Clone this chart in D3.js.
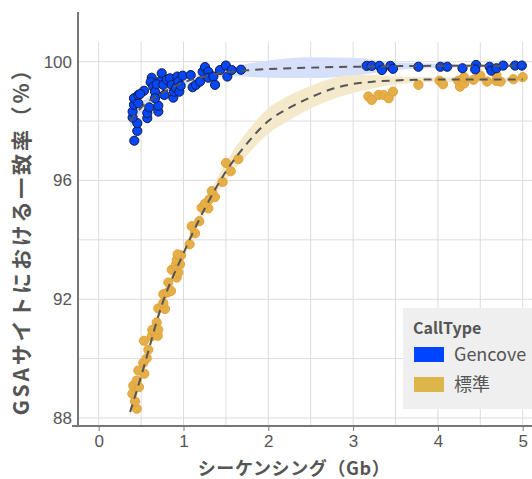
<!DOCTYPE html>
<html>
<head>
<meta charset="utf-8">
<script src="https://cdn.jsdelivr.net/npm/d3@7"></script>
<style>
  body { margin: 0; background: #fff; }
  svg { display: block; font-family: "Noto Sans CJK JP", "Noto Sans", sans-serif; }
</style>
</head>
<body>
<svg id="chart"></svg>
<script>
const width = 532;
const height = 479;

// points: sequencing (Gb) vs concordance (%)
const gencoveX = [0.42, 0.455, 0.455, 0.40, 0.40, 0.416, 0.416, 0.467, 0.467, 0.534, 0.487, 0.573, 0.573, 0.597, 0.703, 0.703,
  0.625, 0.613, 0.644, 0.664, 0.664, 0.743, 0.723, 0.684, 0.762, 0.774, 0.802, 0.841, 0.861, 0.88, 0.888, 0.912, 0.927, 0.939,
  0.951, 0.967, 0.99, 1.085, 1.108, 1.147, 1.195, 1.226, 1.254, 1.293, 1.293, 1.352, 1.372, 1.43, 1.50, 1.517, 1.568, 1.678,
  3.16, 3.22, 3.31, 3.34, 3.44, 3.47, 3.77, 4.03, 4.11, 4.29, 4.45, 4.44, 4.61, 4.63, 4.69, 4.77, 4.91, 4.99];
const gencoveY = [97.34, 97.67, 97.93, 98.12, 98.32, 98.55, 98.77, 98.60, 98.88, 99.02, 98.91, 98.10, 98.27, 98.46, 98.32, 98.52,
  99.46, 99.31, 99.16, 98.99, 98.77, 99.61, 99.33, 99.24, 99.22, 98.88, 99.39, 99.44, 99.22, 98.79, 98.99, 99.11, 99.50, 99.33,
  98.99, 99.19, 99.53, 99.55, 99.14, 99.22, 99.33, 99.66, 99.82, 99.66, 99.46, 99.50, 99.22, 99.72, 99.87, 99.50, 99.72, 99.73,
  99.86, 99.86, 99.86, 99.72, 99.86, 99.76, 99.83, 99.83, 99.83, 99.78, 99.89, 99.74, 99.83, 99.70, 99.78, 99.87, 99.87, 99.87];

const standardX = [0.448, 0.428, 0.397, 0.408, 0.475, 0.448, 0.538, 0.467, 0.526, 0.566, 0.585, 0.534, 0.625, 0.656, 0.696, 0.632,
  0.684, 0.703, 0.703, 0.782, 0.762, 0.762, 0.814, 0.853, 0.821, 0.92, 0.939, 0.861, 0.908, 0.959, 0.92, 0.971, 0.931, 1.072,
  1.136, 1.097, 1.186, 1.215, 1.293, 1.254, 1.304, 1.371, 1.333, 1.462, 1.501, 1.557, 1.646,
  3.18, 3.22, 3.30, 3.36, 3.42, 3.47, 3.77, 4.02, 4.06, 4.24, 4.26, 4.30, 4.31, 4.31, 4.42, 4.50, 4.58, 4.69, 4.69, 4.74, 4.89, 5.00];
const standardY = [88.31, 88.56, 88.82, 89.09, 89.04, 89.26, 89.49, 89.60, 89.86, 90.01, 90.30, 90.60, 90.75, 90.89, 90.77, 90.97,
  91.22, 90.97, 91.69, 91.67, 91.87, 92.17, 92.23, 92.28, 92.56, 92.73, 92.90, 92.99, 93.14, 93.18, 93.32, 93.48, 93.51, 93.85,
  94.22, 94.46, 94.63, 95.08, 95.06, 95.22, 95.36, 95.44, 95.64, 95.95, 96.59, 96.31, 96.72,
  98.83, 98.71, 98.88, 98.88, 98.77, 98.99, 99.22, 99.36, 99.24, 99.36, 99.16, 99.44, 99.27, 99.48, 99.39, 99.53, 99.33, 99.55, 99.35, 99.33, 99.41, 99.48];

// fitted trend and its band
const gencoveFitX = [0.37, 0.5, 0.75, 1.0, 1.25, 1.5, 1.75, 2.0, 2.5, 3.0, 3.25, 3.5, 4.0, 4.5, 5.0];
const gencoveFitY = [98.0, 98.45, 98.95, 99.3, 99.5, 99.64, 99.71, 99.75, 99.8, 99.83, 99.84, 99.85, 99.86, 99.86, 99.87];
const gencoveFitHalf = [0.25, 0.18, 0.12, 0.1, 0.1, 0.14, 0.22, 0.29, 0.35, 0.3, 0.22, 0.13, 0.07, 0.05, 0.05];

const standardFitX = [0.37, 0.5, 0.75, 1.0, 1.25, 1.5, 1.75, 2.0, 2.25, 2.5, 2.75, 3.0, 3.25, 3.5, 4.0, 4.5, 5.0];
const standardFitY = [88.2, 89.4, 91.85, 93.55, 95.05, 96.3, 97.25, 98.0, 98.45, 98.8, 99.08, 99.25, 99.33, 99.37, 99.4, 99.4, 99.4];
const standardFitHalf = [0.15, 0.15, 0.15, 0.15, 0.2, 0.3, 0.4, 0.43, 0.42, 0.38, 0.35, 0.3, 0.22, 0.13, 0.08, 0.08, 0.08];

const xTicks = [0, 1, 2, 3, 4, 5];
const yTicks = [88, 92, 96, 100];
const xGrid = [0, 0.5, 1, 1.5, 2, 2.5, 3, 3.5, 4, 4.5, 5];
const yGrid = [88, 90, 92, 94, 96, 98, 100];

const series = ['Gencove', '標準'];
const colors = { 'Gencove': '#0044ff', '標準': '#dcb64a' };

const svg = d3.select('#chart')
    .attr('width', width)
    .attr('height', height);

const x = d3.scaleLinear().domain([0, 5]).range([98.7, 522.7]);
const y = d3.scaleLinear().domain([88, 100]).range([418, 61.7]);

const axisX = 78;
const axisY = 426;
const gridTop = 42;

// grid
svg.append('g').selectAll('line').data(xGrid).enter().append('line')
    .attr('x1', d => x(d)).attr('x2', d => x(d))
    .attr('y1', gridTop).attr('y2', axisY)
    .attr('stroke', '#dcdcdc').attr('stroke-width', 1);
svg.append('g').selectAll('line').data(yGrid).enter().append('line')
    .attr('x1', axisX).attr('x2', width)
    .attr('y1', d => y(d)).attr('y2', d => y(d))
    .attr('stroke', '#dcdcdc').attr('stroke-width', 1);

// bands
const gencoveFit = gencoveFitX.map((v, i) => ({ x: v, y: gencoveFitY[i], h: gencoveFitHalf[i] }));
const standardFit = standardFitX.map((v, i) => ({ x: v, y: standardFitY[i], h: standardFitHalf[i] }));

const band = d3.area()
    .x(d => x(d.x))
    .y0(d => y(d.y - d.h))
    .y1(d => y(d.y + d.h))
    .curve(d3.curveMonotoneX);

svg.append('path').datum(gencoveFit).attr('d', band).attr('fill', '#d6e0fb');
svg.append('path').datum(standardFit).attr('d', band).attr('fill', '#f4e9cb');

// points
const gencovePts = gencoveX.map((v, i) => ({ x: v, y: gencoveY[i] }));
const standardPts = standardX.map((v, i) => ({ x: v, y: standardY[i] }));

svg.append('g').selectAll('circle').data(standardPts).enter().append('circle')
    .attr('cx', d => x(d.x)).attr('cy', d => y(d.y)).attr('r', 4.6)
    .attr('fill', '#e3b048').attr('stroke', '#e9a03c').attr('stroke-width', 1);

svg.append('g').selectAll('circle').data(gencovePts).enter().append('circle')
    .attr('cx', d => x(d.x)).attr('cy', d => y(d.y)).attr('r', 4.6)
    .attr('fill', '#0047ff').attr('stroke', '#1b1b3a').attr('stroke-width', 1);

// trend lines
const line = d3.line()
    .x(d => x(d.x))
    .y(d => y(d.y))
    .curve(d3.curveMonotoneX);

[gencoveFit, standardFit].forEach(fit => {
    svg.append('path').datum(fit)
        .attr('d', line)
        .attr('fill', 'none')
        .attr('stroke', '#555')
        .attr('stroke-width', 2)
        .attr('stroke-dasharray', '8,6');
});

// axes
const xAxis = svg.append('g')
    .attr('transform', `translate(0, ${axisY})`)
    .call(d3.axisBottom(x).tickValues(xTicks).tickFormat(d3.format('d')).tickSize(5).tickPadding(4));
xAxis.select('.domain').remove();
xAxis.selectAll('line').attr('stroke', '#777');
xAxis.selectAll('text').attr('fill', '#555').style('font-size', '17px');

const yAxis = svg.append('g')
    .attr('transform', `translate(${axisX - 6}, 0)`)
    .call(d3.axisLeft(y).tickValues(yTicks).tickFormat(d3.format('d')).tickSize(0).tickPadding(0));
yAxis.select('.domain').remove();
yAxis.selectAll('text').attr('fill', '#555').style('font-size', '17px');

svg.append('line')
    .attr('x1', axisX).attr('x2', axisX).attr('y1', 12).attr('y2', axisY)
    .attr('stroke', '#777').attr('stroke-width', 2);
svg.append('line')
    .attr('x1', 72).attr('x2', width).attr('y1', axisY).attr('y2', axisY)
    .attr('stroke', '#777').attr('stroke-width', 2);

// titles
svg.append('text')
    .attr('x', 294).attr('y', 475)
    .attr('text-anchor', 'middle')
    .attr('fill', '#555')
    .style('font-size', '18px').style('font-weight', 'bold')
    .style('letter-spacing', '0.6px')
    .text('シーケンシング（Gb）');

svg.append('text')
    .attr('transform', 'translate(29, 236) rotate(-90)')
    .attr('text-anchor', 'middle')
    .attr('fill', '#555')
    .style('font-size', '21px').style('font-weight', 'bold')
    .style('letter-spacing', '2.8px')
    .text('GSAサイトにおける一致率（%）');

// legend
const legend = svg.append('g').attr('transform', 'translate(403, 308)');
legend.append('rect').attr('width', 140).attr('height', 101).attr('fill', '#efefef');
legend.append('text')
    .attr('x', 10).attr('y', 26)
    .attr('fill', '#555')
    .style('font-size', '16px').style('font-weight', 'bold')
    .text('CallType');
series.forEach((s, i) => {
    legend.append('rect')
        .attr('x', 11).attr('y', 39 + i * 30)
        .attr('width', 30).attr('height', 15)
        .attr('fill', colors[s]);
    legend.append('text')
        .attr('x', 51).attr('y', 53 + i * 30)
        .attr('fill', '#555')
        .style('font-size', '18px')
        .text(s);
});
</script>
</body>
</html>
